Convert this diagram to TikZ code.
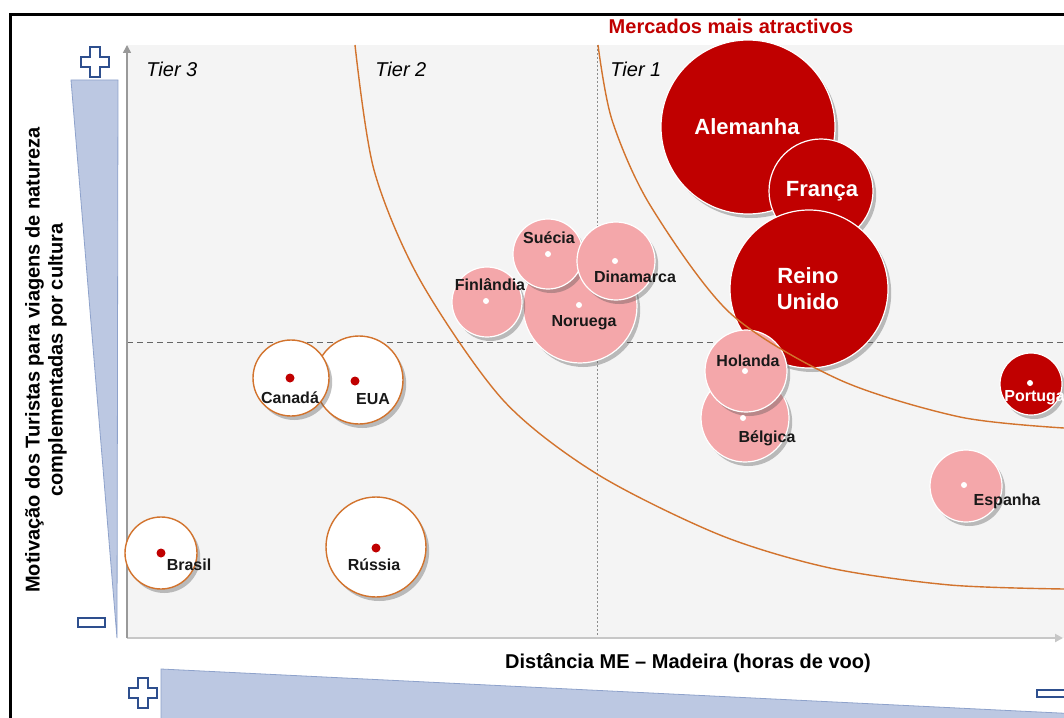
\documentclass[tikz,border=0pt]{standalone}
\usepackage{fontspec}
\setmainfont{Liberation Sans}
\usetikzlibrary{arrows.meta,shadows}

\definecolor{mkred}{HTML}{C00000}
\definecolor{mkpink}{HTML}{F4A7AA}
\definecolor{arcorange}{HTML}{D2732D}
\definecolor{wedgeblue}{HTML}{BCC8E2}
\definecolor{wedgeline}{HTML}{8EA2CB}
\definecolor{signblue}{HTML}{2E4F8E}
\definecolor{plotgray}{HTML}{F4F4F4}

\tikzset{
  bub/.style={circle, inner sep=0pt, minimum size=#1pt,
    drop shadow={shadow xshift=1.6pt, shadow yshift=-2pt, opacity=0.35, fill=black!70}},
  bigmk/.style={bub=#1, fill=mkred, draw=white, line width=0.6pt},
  midmk/.style={bub=#1, fill=mkpink, draw=white, line width=0.6pt},
  lowmk/.style={bub=#1, fill=white, draw=arcorange, line width=0.7pt},
  wdot/.style={circle, fill=white, inner sep=0pt, minimum size=3pt},
  rdot/.style={circle, fill=mkred, inner sep=0pt, minimum size=4.5pt},
  wname/.style={text=white, font=\fontsize{11}{13}\selectfont\bfseries, inner sep=0pt, align=center},
  wsname/.style={text=white, font=\fontsize{8}{9}\selectfont\bfseries, inner sep=0pt},
  sname/.style={text=black!90, font=\fontsize{8}{9}\selectfont\bfseries, inner sep=0pt},
  tierlbl/.style={font=\fontsize{10}{12}\selectfont\itshape, anchor=west, inner sep=0pt},
  axtitle/.style={font=\fontsize{10}{11.5}\selectfont\bfseries, align=center, inner sep=0pt},
  wedgefill/.style={fill=wedgeblue, draw=wedgeline, line width=0.4pt},
  signmark/.style={fill=white, draw=signblue, line width=0.7pt},
  ring/.style={draw=arcorange, line width=0.7pt},
  yaxis/.style={draw=black!40, line width=0.75pt, -{Triangle[width=4pt,length=4pt]}},
  xaxis/.style={draw=black!22, line width=1pt, -{Triangle[width=4pt,length=4pt]}},
  hdash/.style={draw=black!60, line width=0.5pt, dash pattern=on 3pt off 2pt},
  vdash/.style={draw=black!45, line width=0.5pt, dash pattern=on 1pt off 1pt}
}

\begin{document}
\begin{tikzpicture}[x=0.5pt, y=-0.5pt]
  \useasboundingbox (0,0) rectangle (1064,717);
  \clip (0,0) rectangle (1064,717);
  \fill[white] (0,0) rectangle (1064,717);
  \fill[plotgray] (127,45) rectangle (1064,638);
  \draw[line width=1.5pt] (10,730) -- (10,15) -- (1080,15);

  \coordinate (O) at (127,638);
  \coordinate (ytop) at (127,45);
  \coordinate (xend) at (1063,638);
  \coordinate (hl) at (127,342);
  \coordinate (hr) at (1064,342);
  \coordinate (vt) at (597,45);
  \coordinate (vb) at (597,638);

  \draw[hdash] (hl) -- (hr);
  \draw[vdash] (vt) -- (vb);
  \draw[xaxis] (O) -- (xend);
  \draw[yaxis] (O) -- (ytop);

  \draw[wedgefill] (71,80) -- (118,80) -- (117,638) -- cycle;
  \draw[wedgefill] (161,669) -- (1100,715) -- (1100,730) -- (161,730) -- cycle;

  \foreach \p in {(95,62),(143,693)}
    \draw[signmark] \p ++(-5,-15) -- ++(10,0) -- ++(0,10) -- ++(9,0) -- ++(0,10)
      -- ++(-9,0) -- ++(0,10) -- ++(-10,0) -- ++(0,-10) -- ++(-9,0) -- ++(0,-10)
      -- ++(9,0) -- cycle;
  \draw[signmark] (78,618) rectangle (105,627);
  \draw[signmark] (1037,690) rectangle (1075,697);

  \node[font=\fontsize{10}{12}\selectfont\bfseries, text=mkred, inner sep=0pt] (mkt) at (731,26) {Mercados mais atractivos};
  \node[axtitle, rotate=90] (ytit) at (46,360) {Motivação dos Turistas para viagens de natureza\\complementadas por cultura};
  \node[axtitle] (xtit) at (688,663) {Distância ME – Madeira (horas de voo)};

  \node[tierlbl] (t3) at (146,69) {Tier 3};
  \node[tierlbl] (t2) at (375,69) {Tier 2};
  \node[tierlbl] (t1) at (610,69) {Tier 1};

  \node[bigmk=87] (ale) at (748,127) {};
  \node[bigmk=52] (fra) at (821,191) {};
  \node[bigmk=79] (reu) at (809,289) {};
  \node[midmk=44] (bel) at (745,418) {};
  \node[midmk=41] (hol) at (746,371) {};
  \node[midmk=57] (nor) at (580,306) {};
  \node[midmk=35] (fin) at (487,302) {};
  \node[midmk=35] (sue) at (548,254) {};
  \node[midmk=39] (din) at (616,261) {};
  \node[bigmk=31] (por) at (1031,384) {};
  \node[midmk=36] (esp) at (966,486) {};
  \node[lowmk=44] (eua) at (359,380) {};
  \node[lowmk=38] (can) at (291,378) {};
  \node[lowmk=36] (bra) at (161,553) {};
  \node[lowmk=50] (rus) at (376,547) {};

  \draw[ring] plot[smooth] coordinates {(355,45) (374,170) (420,280) (503,400)
    (597,474) (720,535) (830,568) (950,585) (1064,589)};
  \draw[ring] plot[smooth] coordinates {(598,45) (612,120) (650,205) (730,313)
    (840,380) (960,417) (1064,428)};

  \node[wdot] (sueD) at (548,254) {};
  \node[wdot] (dinD) at (615,261) {};
  \node[wdot] (finD) at (486,301) {};
  \node[wdot] (norD) at (579,305) {};
  \node[wdot] (holD) at (745,371) {};
  \node[wdot] (belD) at (743,418) {};
  \node[wdot] (porD) at (1030,383) {};
  \node[wdot] (espD) at (964,485) {};
  \node[rdot] (canD) at (290,378) {};
  \node[rdot] (euaD) at (355,381) {};
  \node[rdot] (braD) at (161,553) {};
  \node[rdot] (rusD) at (376,548) {};

  \node[wname] (aleL) at (747,127) {Alemanha};
  \node[wname] (fraL) at (822,191) {França};
  \node[wname] (reuL) at (808,289) {Reino\\Unido};
  \node[wsname, anchor=west] (porL) at (1004,397) {Portugal};
  \node[sname] (sueL) at (549,238) {Suécia};
  \node[sname] (dinL) at (635,277) {Dinamarca};
  \node[sname] (finL) at (490,285) {Finlândia};
  \node[sname] (norL) at (584,323) {Noruega};
  \node[sname] (holL) at (748,361) {Holanda};
  \node[sname] (belL) at (767,438) {Bélgica};
  \node[sname] (espL) at (1007,501) {Espanha};
  \node[sname] (canL) at (290,398) {Canadá};
  \node[sname] (euaL) at (373,399) {EUA};
  \node[sname] (braL) at (189,565) {Brasil};
  \node[sname] (rusL) at (374,565) {Rússia};
\end{tikzpicture}
\end{document}
